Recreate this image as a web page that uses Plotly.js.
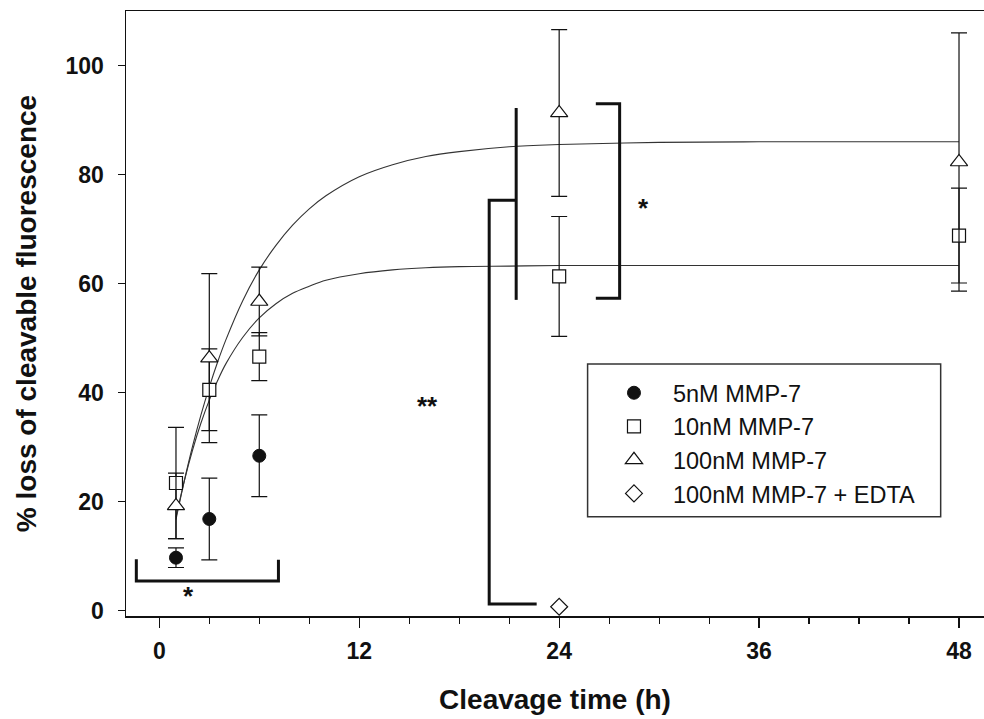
<!DOCTYPE html>
<html>
<head>
<meta charset="utf-8">
<script src="https://cdn.plot.ly/plotly-3.0.1.min.js"></script>
<style>
  html, body { margin: 0; padding: 0; background: #ffffff; }
  #chart { width: 984px; height: 719px; }
</style>
</head>
<body>
<div id="chart"></div>
<script>
// ---- data ----
const seriesNames = ["5nM MMP-7", "10nM MMP-7", "100nM MMP-7", "100nM MMP-7 + EDTA"];

const hours5 = [1, 3, 6];
const loss5 = [9.7, 16.8, 28.4];
const err5 = [1.8, 7.5, 7.5];

const hours10 = [1, 3, 6, 24, 48];
const loss10 = [23.4, 40.5, 46.6, 61.3, 68.8];
const err10 = [10.2, 7.5, 4.4, 11.0, 8.7];

const hours100 = [1, 3, 6, 24, 48];
const loss100 = [19.2, 46.3, 56.7, 91.3, 82.3];
const err100 = [6.0, 15.5, 6.3, 15.3, 23.7];

const hoursEDTA = [24];
const lossEDTA = [0.7];

// fitted curves
const curveHours = [1, 1.5, 2, 2.5, 3, 3.5, 4, 5, 6, 7, 8, 9, 10, 12, 14, 16, 18, 21, 24, 30, 36, 42, 48];
const curve100 = [16.7, 23.8, 30.2, 35.9, 41.0, 45.6, 49.7, 56.8, 62.5, 67.0, 70.7, 73.7, 76.1, 79.6, 81.8, 83.3, 84.2, 85.1, 85.5, 85.9, 86.0, 86.0, 86.0];
const curve10 = [17.1, 23.8, 29.5, 34.4, 38.6, 42.2, 45.3, 50.1, 53.7, 56.3, 58.2, 59.5, 60.6, 61.8, 62.5, 62.9, 63.1, 63.2, 63.3, 63.3, 63.3, 63.3, 63.3];

// significance brackets (hours, %)
const bracketEarlyX = [-1.38, -1.38, 7.15, 7.15];
const bracketEarlyY = [9.4, 5.4, 5.4, 9.3];
const bracketEdtaX = [22.65, 19.8, 19.8, 21.4];
const bracketEdtaY = [1.2, 1.2, 75.3, 75.3];
const dividerX = [21.42, 21.42];
const dividerY = [57.0, 92.2];
const bracketLateX = [26.2, 27.63, 27.63, 26.2];
const bracketLateY = [93.0, 93.0, 57.3, 57.3];

const starLabels = ["*", "**", "*"];
const starX = [1.76, 16.1, 29.05];
const starY = [2.7, 37.5, 73.9];

const xTicks = [0, 12, 24, 36, 48];
const yTicks = [0, 20, 40, 60, 80, 100];

// ---- styling ----
const FONT = "Liberation Sans, Arial, Helvetica, sans-serif";
const INK = "#111111";

function pathFrom(xs, ys) {
  return xs.map((x, i) => (i === 0 ? "M" : "L") + x + "," + ys[i]).join(" ");
}

const errStyle = (arr) => ({ type: "data", array: arr, visible: true, color: INK, thickness: 1.2, width: 8 });

const traces = [
  { x: curveHours, y: curve100, mode: "lines", line: { color: "#333333", width: 1.1, shape: "spline" }, showlegend: false, hoverinfo: "skip" },
  { x: curveHours, y: curve10, mode: "lines", line: { color: "#333333", width: 1.1, shape: "spline" }, showlegend: false, hoverinfo: "skip" },
  { x: hours5, y: loss5, name: seriesNames[0], mode: "markers", error_y: errStyle(err5),
    marker: { symbol: "circle", size: 13, color: INK, line: { color: INK, width: 1 } }, cliponaxis: false },
  { x: hours10, y: loss10, name: seriesNames[1], mode: "markers", error_y: errStyle(err10),
    marker: { symbol: "square", size: 13, color: "#ffffff", line: { color: INK, width: 1.2 } }, cliponaxis: false },
  { x: hours100, y: loss100, name: seriesNames[2], mode: "markers", error_y: errStyle(err100),
    marker: { symbol: "triangle-up", size: 15, color: "#ffffff", line: { color: INK, width: 1.2 } }, cliponaxis: false },
  { x: hoursEDTA, y: lossEDTA, name: seriesNames[3], mode: "markers",
    marker: { symbol: "diamond", size: 13, color: "#ffffff", line: { color: INK, width: 1.2 } }, cliponaxis: false }
];

const bracketLine = { color: INK, width: 3 };
const shapes = [
  { type: "path", xref: "x", yref: "y", path: pathFrom(bracketEarlyX, bracketEarlyY), line: bracketLine },
  { type: "path", xref: "x", yref: "y", path: pathFrom(bracketEdtaX, bracketEdtaY), line: bracketLine },
  { type: "path", xref: "x", yref: "y", path: pathFrom(dividerX, dividerY), line: bracketLine },
  { type: "path", xref: "x", yref: "y", path: pathFrom(bracketLateX, bracketLateY), line: bracketLine },
  // legend frame
  { type: "rect", xref: "paper", yref: "paper", x0: 0.538, x1: 0.9495, y0: 0.164, y1: 0.4165,
    line: { color: "#333333", width: 1.5 }, fillcolor: "rgba(0,0,0,0)" }
];

const annotations = starLabels.map((t, i) => ({
  x: starX[i], y: starY[i], xref: "x", yref: "y", text: t, showarrow: false,
  font: { family: FONT, size: 26, color: INK, weight: "bold" }
}));

const layout = {
  width: 984, height: 719,
  margin: { l: 126, r: 0, t: 11, b: 103, pad: 0 },
  paper_bgcolor: "#ffffff", plot_bgcolor: "#ffffff",
  showlegend: true,
  legend: {
    x: 0.5466, xanchor: "left", y: 0.405, yanchor: "top",
    bgcolor: "rgba(0,0,0,0)", borderwidth: 0, itemwidth: 68,
    font: { family: FONT, size: 23.5, color: INK }
  },
  xaxis: {
    range: [-2, 49.5], tickvals: xTicks, ticktext: xTicks.map(String),
    showgrid: false, zeroline: false,
    showline: true, linecolor: INK, linewidth: 1.5, mirror: true,
    ticks: "outside", ticklen: 10, tickwidth: 1.3, tickcolor: INK,
    minor: { dtick: 3, tick0: 0, ticks: "outside", ticklen: 6, tickwidth: 1.2, tickcolor: INK, showgrid: false },
    ticklabelstandoff: 4,
    tickfont: { family: FONT, size: 23, color: INK, weight: "bold" },
    title: { text: "Cleavage time (h)", standoff: 26, font: { family: FONT, size: 28, color: INK, weight: "bold" } }
  },
  yaxis: {
    range: [-1, 110], tickvals: yTicks, ticktext: yTicks.map(String),
    showgrid: false, zeroline: false,
    showline: true, linecolor: INK, linewidth: 1.5,
    ticks: "outside", ticklen: 7, tickwidth: 1.3, tickcolor: INK,
    ticklabelstandoff: 9,
    tickfont: { family: FONT, size: 23, color: INK, weight: "bold" },
    title: { text: "% loss of cleavable fluorescence", standoff: 20, font: { family: FONT, size: 28, color: INK, weight: "bold" } }
  },
  shapes: shapes,
  annotations: annotations
};

Plotly.newPlot("chart", traces, layout, { staticPlot: true, displayModeBar: false });
</script>
</body>
</html>
